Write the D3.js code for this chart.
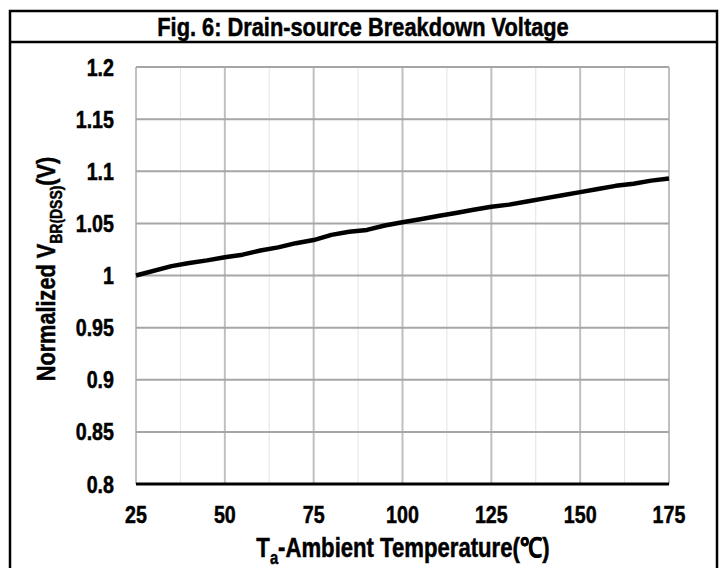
<!DOCTYPE html>
<html>
  <head>
    <meta charset="utf-8">
    <script src="https://d3js.org/d3.v7.min.js"></script>
    <style>
      body { margin: 0; background: #fff; }
      text { font-family: "Liberation Sans", Arial, sans-serif; font-weight: bold; fill: #000; stroke: #000; stroke-width: 0.5px; }
    </style>
  </head>
  <body>
  <div id="chart"></div>
  <script>
    var title = "Fig. 6: Drain-source Breakdown Voltage";
    var temps = [25, 35, 40, 45, 50, 55, 60, 65, 70, 75, 80, 85, 90, 95, 100, 105, 110, 115, 120, 125, 130, 135, 140, 145, 150, 155, 160, 165, 170, 175];
    var vbr   = [1.000, 1.009, 1.012, 1.0145, 1.0175, 1.020, 1.024, 1.027, 1.031, 1.034, 1.039, 1.042, 1.0437, 1.048, 1.051, 1.054, 1.057, 1.060, 1.063, 1.066, 1.068, 1.071, 1.074, 1.077, 1.080, 1.083, 1.086, 1.088, 1.091, 1.093];
    var xTicks = [25, 50, 75, 100, 125, 150, 175];
    var xMinor = [37.5, 62.5, 87.5, 112.5, 137.5, 162.5];
    var yTicks = [0.8, 0.85, 0.9, 0.95, 1, 1.05, 1.1, 1.15, 1.2];

    var width = 726, height = 568;
    var narrow = 0.82;  // fake Arial Narrow by squeezing Liberation Sans
    var svg = d3.select("#chart").append("svg")
      .attr("width", width).attr("height", height);

    function ntext(x, y, size, anchor, rot) {
      return svg.append("text")
        .attr("transform", "translate(" + x + "," + y + ")" + (rot ? " rotate(" + rot + ")" : "") + " scale(" + narrow + ",1)")
        .attr("text-anchor", anchor || "middle")
        .style("font-size", size + "px");
    }

    // frame + title band
    svg.append("rect").attr("x", 10).attr("y", 11).attr("width", 707).attr("height", 570)
      .attr("fill", "none").attr("stroke", "#000").attr("stroke-width", 2.5);
    svg.append("line").attr("x1", 10).attr("x2", 717).attr("y1", 42).attr("y2", 42)
      .attr("stroke", "#000").attr("stroke-width", 2.5);
    ntext(363, 35.5, 26.6).text(title);

    var x = d3.scaleLinear().domain([25, 175]).range([136, 669]);
    var y = d3.scaleLinear().domain([0.8, 1.2]).range([484, 67]);

    // grid
    svg.selectAll(".minor").data(xMinor).enter().append("line")
      .attr("x1", d => x(d)).attr("x2", d => x(d)).attr("y1", y(1.2)).attr("y2", y(0.8))
      .attr("stroke", "#e3e3e3").attr("stroke-width", 1);
    svg.selectAll(".vgrid").data(xTicks).enter().append("line")
      .attr("x1", d => x(d)).attr("x2", d => x(d)).attr("y1", y(1.2)).attr("y2", y(0.8))
      .attr("stroke", "#c0c0c0").attr("stroke-width", 2);
    svg.selectAll(".hgrid").data(yTicks.slice(1)).enter().append("line")
      .attr("x1", x(25)).attr("x2", x(175)).attr("y1", d => y(d)).attr("y2", d => y(d))
      .attr("stroke", "#a6a6a6").attr("stroke-width", 2);
    svg.append("line").attr("x1", x(25)).attr("x2", x(175)).attr("y1", y(0.8)).attr("y2", y(0.8))
      .attr("stroke", "#000").attr("stroke-width", 3);

    // tick labels
    xTicks.forEach(function(t) { ntext(x(t), 522.5, 24).text(t); });
    yTicks.forEach(function(v) { ntext(114, y(v) + 8.5, 24, "end").text(String(v)); });

    // data line
    svg.append("path").datum(temps.map((t, i) => [t, vbr[i]]))
      .attr("fill", "none").attr("stroke", "#000").attr("stroke-width", 4.5)
      .attr("stroke-linejoin", "round")
      .attr("d", d3.line().x(d => x(d[0])).y(d => y(d[1])));

    // axis titles
    var xt = ntext(403, 556.5, 27);
    xt.append("tspan").text("T");
    xt.append("tspan").attr("dy", 7).style("font-size", "18px").text("a");
    xt.append("tspan").attr("dy", -7).text("-Ambient Temperature(\u2103)");

    var yt = ntext(55, 269, 26.5, "middle", -90);
    yt.append("tspan").text("Normalized V");
    yt.append("tspan").attr("dy", 7).style("font-size", "17px").text("BR(DSS)");
    yt.append("tspan").attr("dy", -7).text("(V)");
  </script>
  </body>
</html>
